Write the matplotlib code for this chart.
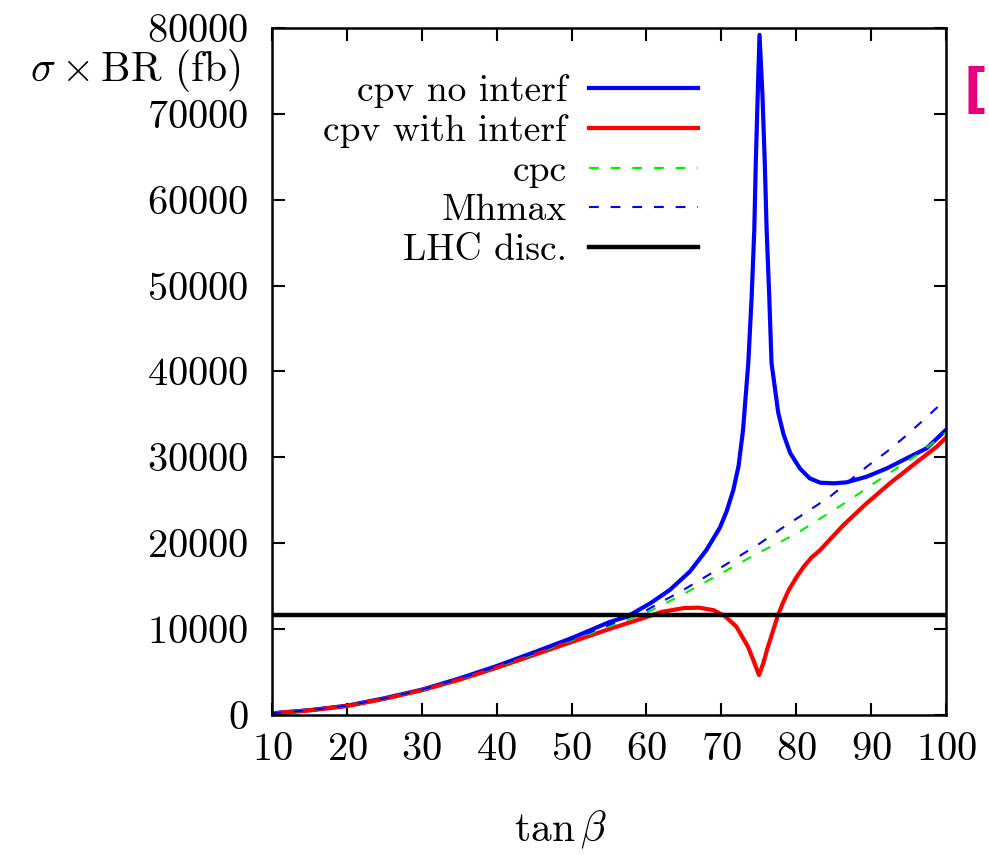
import matplotlib
matplotlib.use("Agg")
import matplotlib.pyplot as plt

plt.rcParams["font.family"] = "serif"
plt.rcParams["font.serif"] = ["cmr10"]
plt.rcParams["mathtext.fontset"] = "cm"
plt.rcParams["axes.formatter.use_mathtext"] = True

# cpv without interference (blue solid)
tb_noint = [10, 15, 20, 25, 30, 35, 40, 45, 50, 55, 57.4, 60.5, 63.1, 65.8, 68, 69.8,
            70.7, 71.6, 72.3, 72.9, 73.6, 74.05, 74.4, 74.6, 74.85, 75.1, 75.5, 75.8,
            76.05, 76.4, 76.7, 77.6, 78.3, 79.2, 80.5, 81.8, 83.2, 85, 86.7, 89.4, 92.1,
            94.75, 97.4, 100]
xs_noint = [200, 560, 1080, 1950, 2950, 4250, 5700, 7300, 8950, 10800, 11450, 13000,
            14550, 16700, 19200, 21800, 23700, 26200, 29000, 33200, 41000, 48700, 56500,
            64300, 72000, 79200, 72000, 64300, 56500, 48700, 41000, 35200, 32700, 30500,
            28700, 27560, 27050, 26980, 27090, 27750, 28720, 29890, 31050, 33200]

# cpv with interference (red solid)
tb_int = [10, 15, 20, 25, 30, 35, 40, 45, 50, 55, 60, 62, 65, 67, 69, 70.5, 72, 73.56,
          74.27, 75.03, 75.6, 76.1, 76.86, 77.57, 78.2, 79, 80, 81, 82, 83.2, 86.3, 89.4,
          92.5, 95.6, 98.75, 100]
xs_int = [180, 540, 1040, 1880, 2880, 4100, 5500, 7000, 8500, 10000, 11400, 12000, 12450,
          12500, 12200, 11500, 10300, 7950, 6400, 4650, 6020, 7570, 9700, 11640, 13000,
          14550, 16000, 17270, 18300, 19210, 22120, 24650, 26980, 29110, 31240, 32300]

# cpc (green dashed)
tb_cpc = [10, 15, 20, 25, 30, 35, 40, 45, 50, 55, 60, 65, 70, 75, 80, 82.5, 85.4, 88.1,
          90.7, 93.4, 96.1, 98.75, 100]
xs_cpc = [200, 550, 1050, 1900, 2900, 4150, 5600, 7100, 8700, 10300, 11900, 14100, 16500,
          18900, 21100, 22510, 24070, 25620, 27170, 28720, 30270, 32020, 32900]

# Mhmax (blue dashed)
tb_mh = [10, 15, 20, 25, 30, 35, 40, 45, 50, 55, 60, 65, 70, 75, 78, 81.8, 84.5, 89.4,
         92.1, 94.5, 97, 99.4, 100]
xs_mh = [200, 560, 1070, 1920, 2930, 4200, 5650, 7200, 8800, 10500, 12200, 14600, 17200,
         19900, 21700, 23870, 25420, 28910, 30660, 32400, 34350, 36290, 36750]

lhc_disc = 11650

fig = plt.figure(figsize=(9.89, 8.55), dpi=100)
ax = fig.add_axes([272 / 989, 1 - 715 / 855, (946 - 272) / 989, (715 - 28) / 855])

ax.plot(tb_noint, xs_noint, color="#0000ff", lw=3.0, solid_joinstyle="round",
        label="cpv no interf")
ax.plot(tb_int, xs_int, color="#ff0000", lw=3.0, solid_joinstyle="round",
        label="cpv with interf")
ax.plot(tb_cpc, xs_cpc, color="#00ee00", lw=1.5, dashes=(4.7, 5.7), label="cpc")
ax.plot(tb_mh, xs_mh, color="#0000ff", lw=1.5, dashes=(4.7, 5.7), label="Mhmax")
ax.axhline(lhc_disc, color="black", lw=3.2, label="LHC disc.")

ax.set_xlim(10, 100)
ax.set_ylim(0, 80000)
ax.set_xticks(range(10, 101, 10))
ax.set_yticks(range(0, 80001, 10000))
ax.tick_params(direction="in", length=9, width=1.5, top=True, right=True,
               labelsize=29)
ax.tick_params(axis="x", pad=12)
ax.tick_params(axis="y", pad=17)
for s in ax.spines.values():
    s.set_linewidth(1.8)

leg = ax.legend(loc="upper right", bbox_to_anchor=(698 / 989, 1 - 74 / 855),
                bbox_transform=fig.transFigure, frameon=False, markerfirst=False,
                fontsize=27, handlelength=2.9, handletextpad=0.6, labelspacing=0.17,
                borderpad=0, borderaxespad=0)

fig.text(241 / 989, 1 - 70 / 855, r"$\sigma\times$BR (fb)", fontsize=30,
         ha="right", va="center")
fig.text(560 / 989, 1 - 830 / 855, r"$\tan\beta$", fontsize=30, ha="center", va="center")
fig.text(964 / 989, 1 - 92 / 855, "[", fontsize=38, color="#e6007e", ha="left",
         va="center", family="DejaVu Sans", weight="bold")

fig.savefig("out.png", dpi=100)
